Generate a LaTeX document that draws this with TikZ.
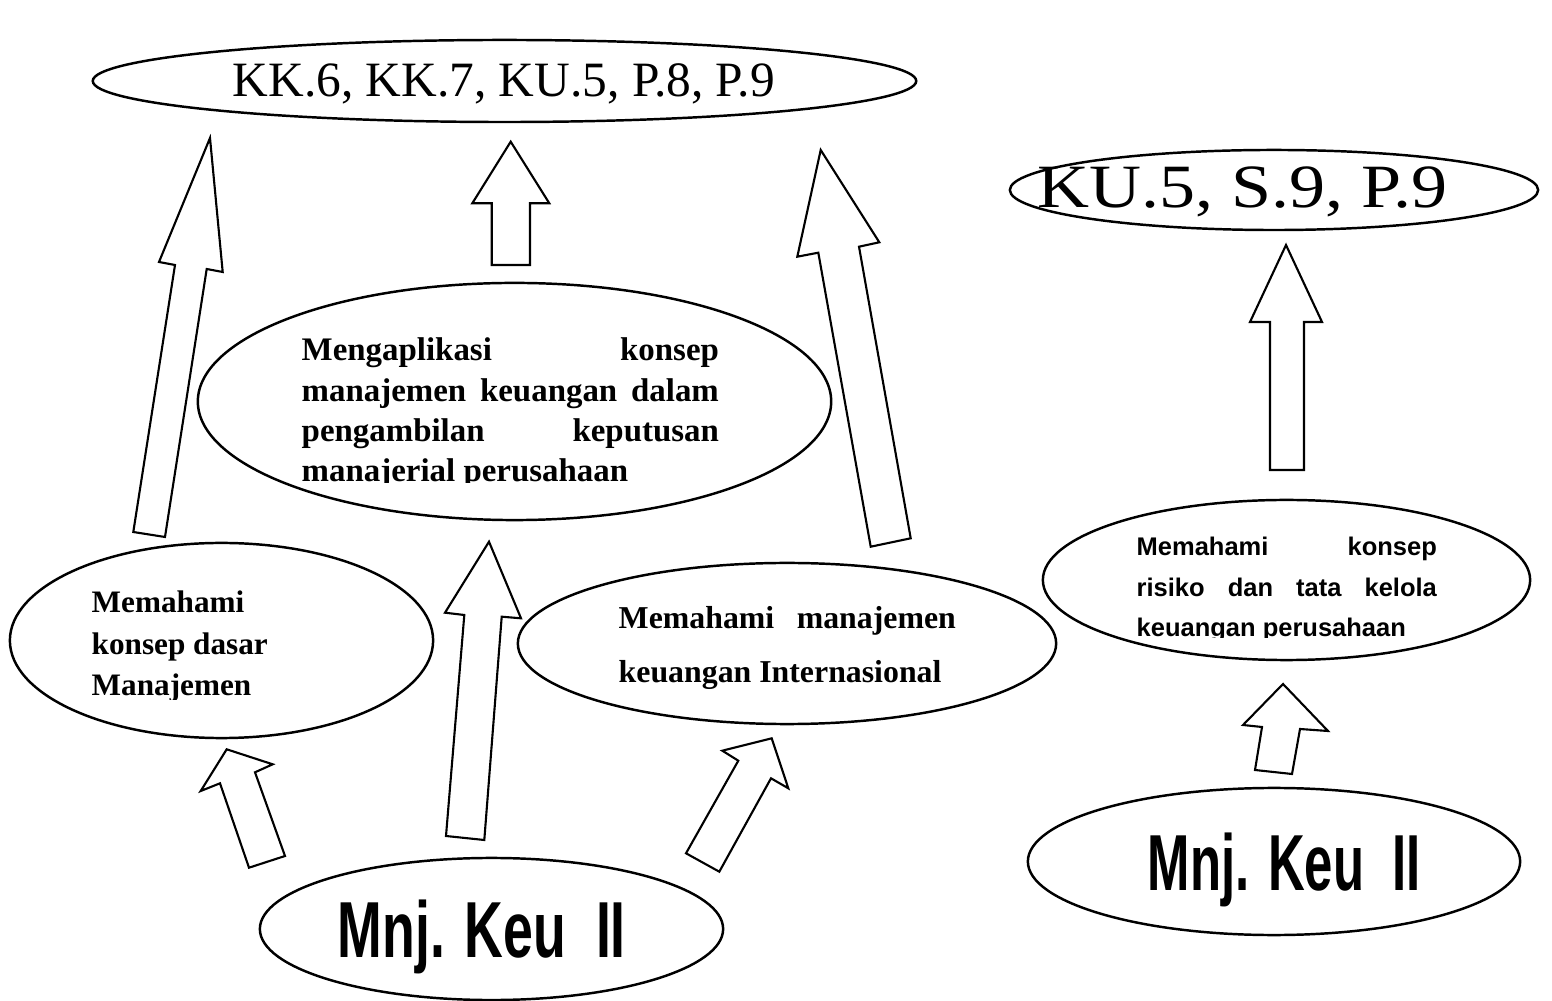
\documentclass[tikz,border=0pt]{standalone}
\usepackage{fontspec}
\setmainfont{Liberation Serif}
\newfontfamily\arialf{Liberation Sans}
\newfontfamily\narrowf[FakeStretch=0.675]{Liberation Sans}
\newfontfamily\narrowg[FakeStretch=0.64]{Liberation Sans}
\newfontfamily\wideserif[FakeStretch=1.17]{Liberation Serif}
\usetikzlibrary{shapes.geometric}
\tikzset{
  bub/.style={draw, ellipse, line width=0.7pt, inner sep=0pt},
  blk/.style={draw, line width=0.6pt, line join=miter},
  txt/.style={inner sep=0pt, anchor=base west},
}
\begin{document}
\begin{tikzpicture}[x=0.01cm,y=-0.01cm]
\useasboundingbox (0,0) rectangle (1552,1001);
% ellipses
\node[bub, minimum width=8.23cm, minimum height=0.82cm] (eKK) at (504.5,81) {};
\node[bub, minimum width=5.28cm, minimum height=0.80cm] (eKU) at (1274,190) {};
\node[bub, minimum width=6.33cm, minimum height=2.37cm] (eApl) at (514.5,401.5) {};
\node[bub, minimum width=4.23cm, minimum height=1.95cm] (eDas) at (221.5,640.5) {};
\node[bub, minimum width=5.38cm, minimum height=1.61cm] (eInt) at (787,643.5) {};
\node[bub, minimum width=4.87cm, minimum height=1.60cm] (eRis) at (1286.5,580) {};
\node[bub, minimum width=4.63cm, minimum height=1.42cm] (eMk1) at (491.5,929) {};
\node[bub, minimum width=4.92cm, minimum height=1.47cm] (eMk2) at (1274,861.5) {};
% texts
\node[txt] (tKK) at (232,97) {\fontsize{14.05pt}{16pt}\selectfont KK.6, KK.7, KU.5, P.8, P.9};
\node[txt] (tKU) at (1037,208) {\wideserif\fontsize{17.5pt}{20pt}\selectfont KU.5, S.9, P.9};
\begin{scope}
\clip (300,300) rectangle (740,483);
\node[txt] (tApl) at (301,361) {\vtop{\fontsize{9.36pt}{11.38pt}\selectfont\bfseries
  \hbox to 4.17cm{Mengaplikasi konsep}
  \hbox to 4.17cm{manajemen keuangan dalam}
  \hbox to 4.17cm{pengambilan keputusan}
  \hbox{manajerial perusahaan}}};
\end{scope}
\begin{scope}
\clip (80,580) rectangle (300,699.5);
\node[txt] (tDas) at (91,612.7) {\vtop{\fontsize{8.88pt}{11.8pt}\selectfont\bfseries
  \hbox{Memahami}
  \hbox{konsep dasar}
  \hbox{Manajemen}}};
\end{scope}
\node[txt] (tInt) at (618,629) {\vtop{\fontsize{9.05pt}{15.3pt}\selectfont\bfseries
  \hbox to 3.37cm{Memahami manajemen}
  \hbox{keuangan Internasional}}};
\begin{scope}
\clip (1120,520) rectangle (1460,637.5);
\node[txt] (tRis) at (1136,556) {\vtop{\arialf\fontsize{7.25pt}{11.38pt}\selectfont\bfseries
  \hbox to 3.0cm{Memahami konsep}
  \hbox to 3.0cm{risiko dan tata kelola}
  \hbox{keuangan perusahaan}}};
\end{scope}
\node[txt] (tMk1) at (337,957) {\narrowf\bfseries\fontsize{22.6pt}{26pt}\selectfont Mnj. Keu\ \ II};
\node[txt] (tMk2) at (1147,890) {\narrowg\bfseries\fontsize{22.6pt}{26pt}\selectfont Mnj. Keu\ \ II};
% block arrows
\draw[blk] (210,138) -- (222.7,272) -- (206.7,269) -- (165,537) -- (133.3,532) -- (175,265) -- (159,262) -- cycle;
\draw[blk] (510.7,141.7) -- (549.3,203.3) -- (530,203.3) -- (530,265) -- (491.7,265) -- (491.7,203.3) -- (472.3,203.3) -- cycle;
\draw[blk] (820.7,150) -- (879.3,242.3) -- (859,246.7) -- (910.7,538.3) -- (870.7,546.7) -- (818.3,252.7) -- (797.3,256.7) -- cycle;
\draw[blk] (489,541.7) -- (521,618.3) -- (501.7,616.7) -- (484.3,840) -- (446,836) -- (464.3,615) -- (445,612.7) -- cycle;
\draw[blk] (226.7,749.3) -- (272.7,764.3) -- (255,772.3) -- (285,856) -- (249,867.7) -- (220,783.3) -- (200.7,791) -- cycle;
\draw[blk] (771.7,738.3) -- (788.3,788.3) -- (771,778.3) -- (719.3,871.7) -- (686,853.3) -- (738.3,760.7) -- (722.3,750.7) -- cycle;
\draw[blk] (1286,245) -- (1322,322) -- (1304,322) -- (1304,470) -- (1270,470) -- (1270,322) -- (1250,322) -- cycle;
\draw[blk] (1283,684) -- (1328,731) -- (1300,729) -- (1292,774) -- (1255,770) -- (1262,727) -- (1243,725) -- cycle;
\end{tikzpicture}
\end{document}
